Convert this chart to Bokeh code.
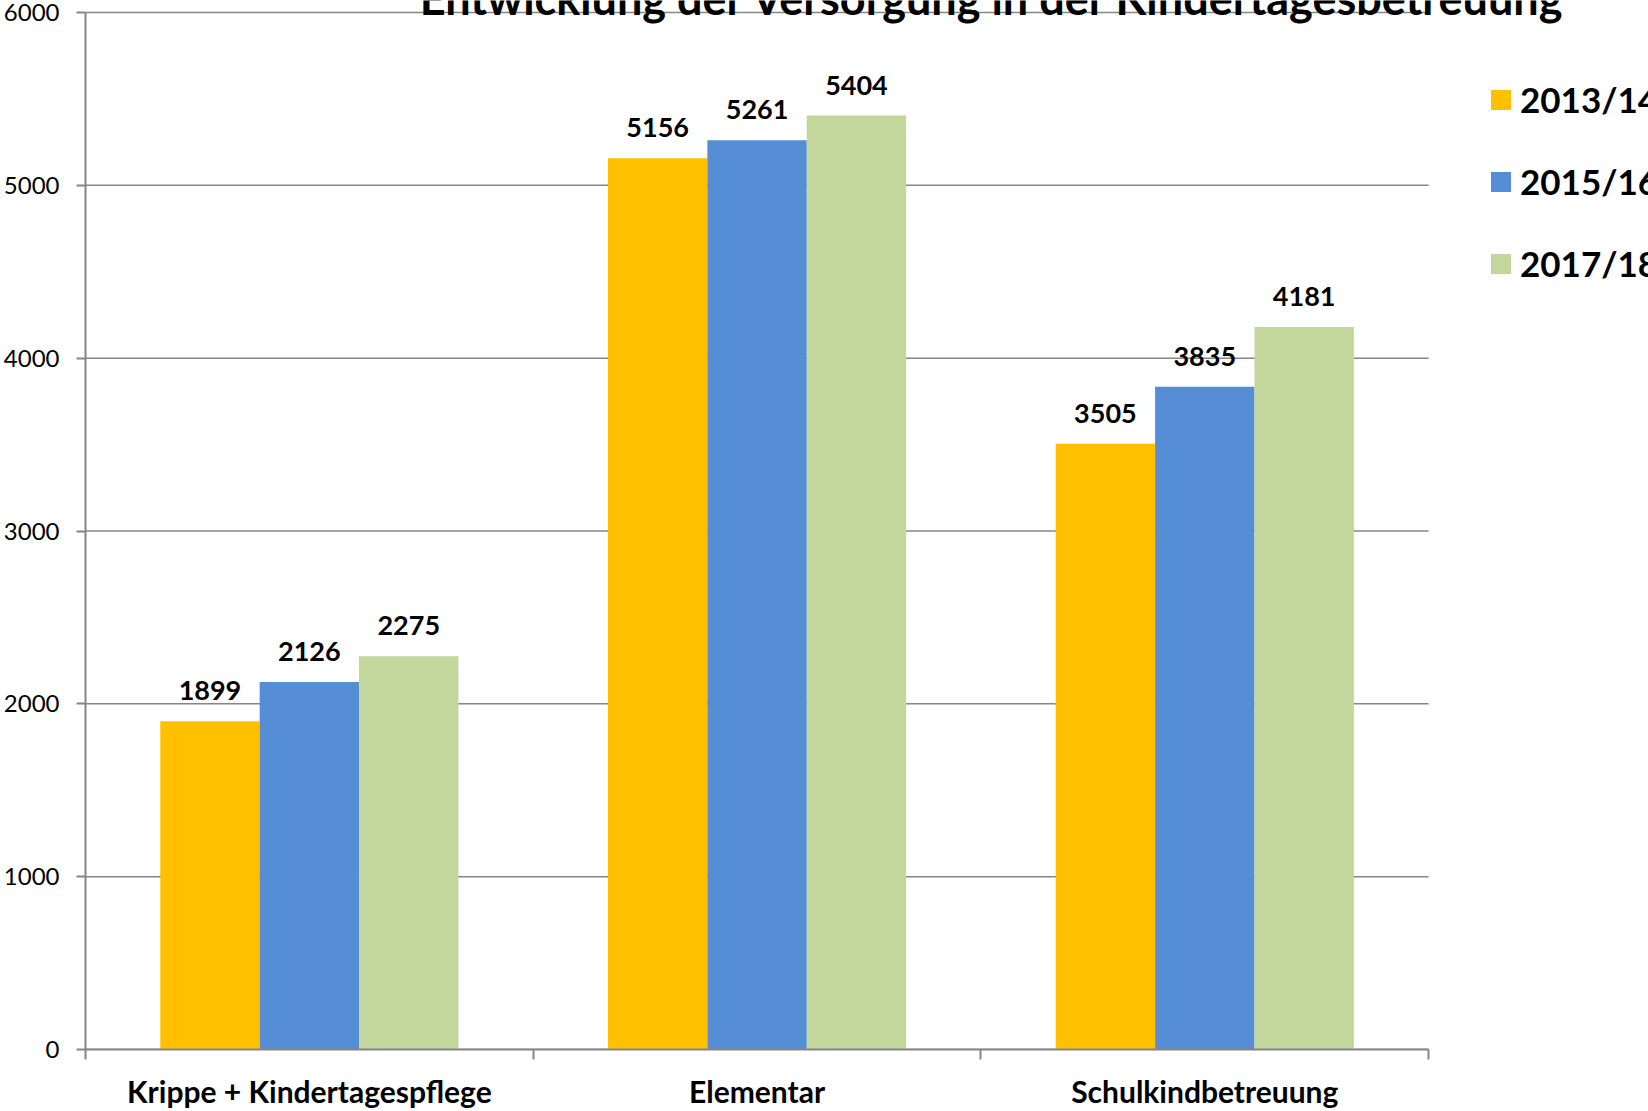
from bokeh.plotting import figure
from bokeh.models import (Range1d, LinearAxis, FixedTicker, ColumnDataSource, LabelSet,
                          Legend, LegendItem, Label)
from bokeh.core.properties import value
from bokeh.embed import file_html
from bokeh.resources import INLINE

title_text = "Entwicklung der Versorgung in der Kindertagesbetreuung"
categories = ["Krippe + Kindertagespflege", "Elementar", "Schulkindbetreuung"]
years = ["2013/14", "2015/16", "2017/18"]
v_2013 = [1899, 5156, 3505]
v_2015 = [2126, 5261, 3835]
v_2017 = [2275, 5404, 4181]
colors = ["#FFC000", "#558ED5", "#C3D69B"]
y_ticks = [0, 1000, 2000, 3000, 4000, 5000, 6000]

GRAY = "#868686"
FONT = "Lato"

n_cat = len(categories)
cat_centers = [i + 0.5 for i in range(n_cat)]
cat_bounds = list(range(n_cat + 1))
y_max = y_ticks[-1]
X_END = 1564 / 448              # frame reaches the right canvas edge (legend lives there)
Y_END = y_max * 1049 / 1037     # frame reaches the top edge (title is cut off there)

p = figure(width=1648, height=1111,
           x_range=Range1d(0, X_END), y_range=Range1d(0, Y_END),
           output_backend="svg", toolbar_location=None,
           x_axis_location=None,
           min_border_left=84, min_border_right=0,
           min_border_top=0, min_border_bottom=57)
p.outline_line_color = None
p.xgrid.visible = False
p.ygrid.visible = False

# horizontal grid lines spanning the category area only
p.segment(x0=[0] * len(y_ticks), x1=[n_cat] * len(y_ticks), y0=y_ticks, y1=y_ticks,
          line_color=GRAY, line_width=1.5, level="underlay")

bw = 0.222
offsets = [-bw, 0.0, bw]
series = [v_2013, v_2015, v_2017]
items = []
for yr, vals, col, off in zip(years, series, colors, offsets):
    src = ColumnDataSource(dict(x=[c + off for c in cat_centers], y=vals,
                                label=[str(v) for v in vals]))
    r = p.vbar(x="x", top="y", width=bw, fill_color=col, line_color=None, source=src)
    ls = LabelSet(x="x", y="y", text="label", source=src,
                  y_offset=21, text_align="center", text_baseline="alphabetic",
                  text_font=value(FONT), text_font_style="bold", text_font_size="27px",
                  text_color="black")
    p.add_layout(ls)
    items.append(LegendItem(label=yr, renderers=[r]))

# y axis
p.yaxis.ticker = FixedTicker(ticks=y_ticks)
p.yaxis.bounds = (0, y_max)
p.yaxis.major_tick_in = 0
p.yaxis.major_tick_out = 9
p.yaxis.minor_tick_line_color = None
p.yaxis.axis_line_color = GRAY
p.yaxis.axis_line_width = 2
p.yaxis.major_tick_line_color = GRAY
p.yaxis.major_tick_line_width = 2
p.yaxis.major_label_text_font = FONT
p.yaxis.major_label_text_font_size = "24px"
p.yaxis.major_label_text_color = "black"
p.yaxis.major_label_standoff = 17

# x axis: category names as labels, separator ticks as minor ticks
x_axis = LinearAxis(ticker=FixedTicker(ticks=cat_centers, minor_ticks=cat_bounds),
                    bounds=(0, n_cat),
                    major_label_overrides={c: name for c, name in zip(cat_centers, categories)},
                    major_tick_in=0, major_tick_out=0, major_tick_line_color=None,
                    minor_tick_in=0, minor_tick_out=10,
                    minor_tick_line_color=GRAY, minor_tick_line_width=2,
                    axis_line_color=GRAY, axis_line_width=2,
                    major_label_text_font=FONT, major_label_text_font_style="bold",
                    major_label_text_font_size="30px", major_label_text_color="black",
                    major_label_standoff=13)
p.add_layout(x_axis, "below")

legend = Legend(items=items, location=(1403, 765), orientation="vertical",
                glyph_width=25, glyph_height=25, label_standoff=7, spacing=40,
                padding=0, margin=0, border_line_alpha=0, background_fill_alpha=0,
                label_text_font=FONT, label_text_font_style="bold",
                label_text_font_size="35px", label_text_color="black")
p.add_layout(legend)

# title, centred at x≈992 px, its upper half cut off by the top edge as in the original
title = Label(x=(992 - 84) / 448, y=Y_END + 3 * Y_END / 1049, text=title_text,
              text_align="center", text_baseline="alphabetic",
              text_font=FONT, text_font_style="bold", text_font_size="45px",
              text_color="black")
p.add_layout(title)

open("out.html", "w").write(file_html(p, INLINE))
